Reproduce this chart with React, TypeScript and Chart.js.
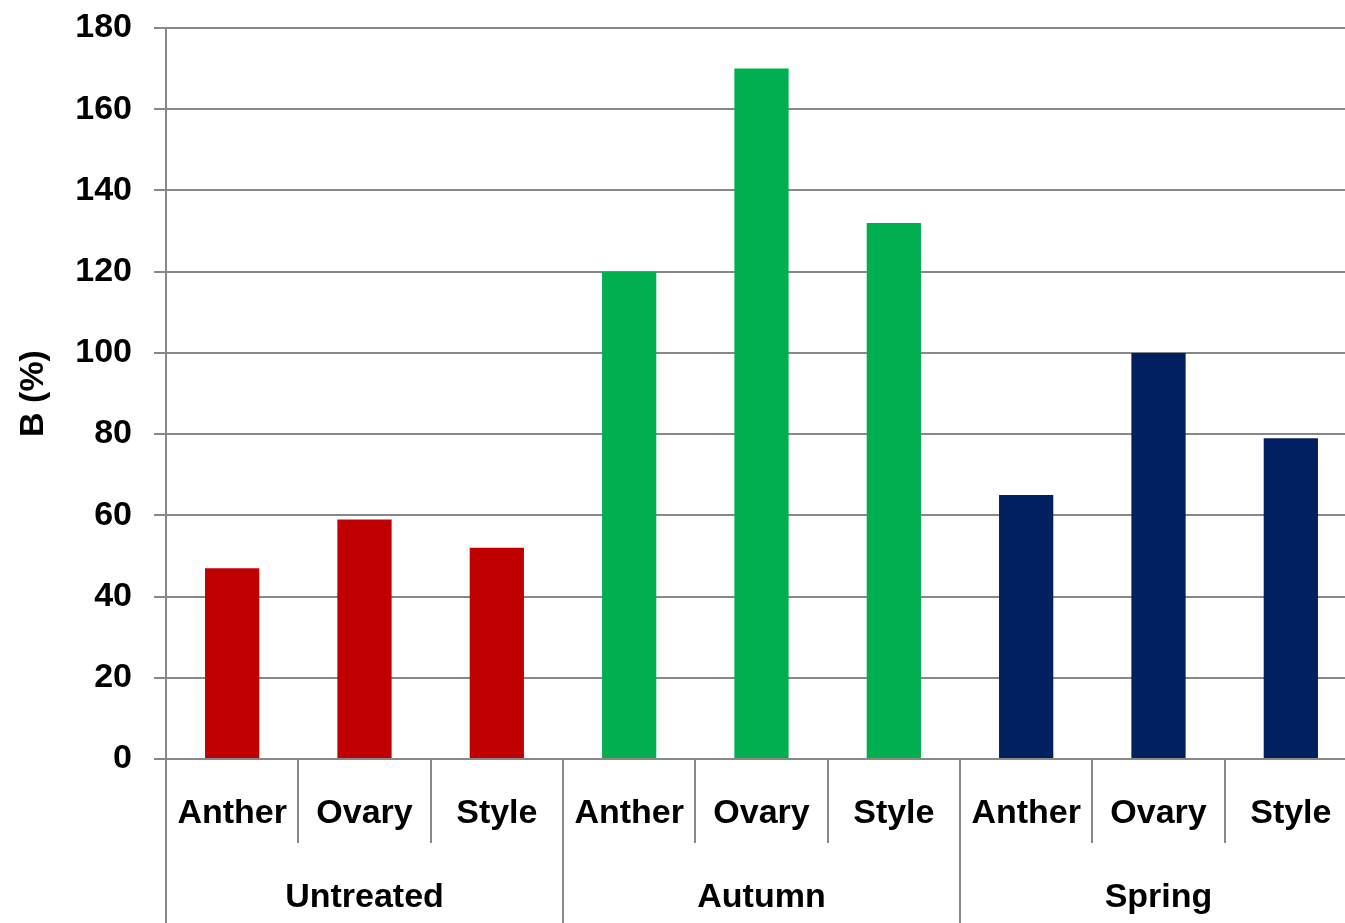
import React, { useEffect, useRef } from "react";
import { Chart, registerables } from "chart.js";

Chart.register(...registerables);

const groups = ["Untreated", "Autumn", "Spring"];
const organs = ["Anther", "Ovary", "Style"];
const values = [47, 59, 52, 120, 170, 132, 65, 100, 79];
const groupColors = ["#C00000", "#00B050", "#002060"];
const yTicks = [0, 20, 40, 60, 80, 100, 120, 140, 160, 180];

const FONT = "'Liberation Sans', Arial, sans-serif";
const GRID = "#888888";

const categoryAxisPlugin = {
  id: "categoryAxis",
  afterDraw(chart: any) {
    const { ctx, chartArea, scales } = chart;
    const x = scales.x;
    const n = values.length;
    const step = x.getPixelForValue(1) - x.getPixelForValue(0);
    const bottom = chartArea.bottom;
    const h = chart.height;
    ctx.save();
    ctx.strokeStyle = GRID;
    ctx.lineWidth = 2;
    for (let i = 0; i < n; i++) {
      const px = Math.round(x.getPixelForValue(i) - step / 2);
      const end = i % organs.length === 0 ? h : bottom + 84;
      ctx.beginPath();
      ctx.moveTo(px, bottom);
      ctx.lineTo(px, end);
      ctx.stroke();
    }
    ctx.fillStyle = "#000";
    ctx.textAlign = "center";
    ctx.textBaseline = "middle";
    ctx.font = `bold 34px ${FONT}`;
    for (let i = 0; i < n; i++) {
      ctx.fillText(organs[i % organs.length], x.getPixelForValue(i), bottom + 55);
    }
    groups.forEach((g, gi) => {
      const c = x.getPixelForValue(gi * organs.length + 1);
      ctx.fillText(g, c, bottom + 139);
    });
    ctx.restore();
  },
};

export default function App() {
  const ref = useRef<HTMLCanvasElement | null>(null);

  useEffect(() => {
    document.body.style.margin = "0";
    const labels = values.map((_, i) => `${groups[Math.floor(i / 3)]} ${organs[i % 3]}`);
    const colors = values.map((_, i) => groupColors[Math.floor(i / 3)]);
    const chart = new Chart(ref.current as HTMLCanvasElement, {
      type: "bar",
      data: {
        labels,
        datasets: [
          {
            data: values,
            backgroundColor: colors,
            borderWidth: 0,
            categoryPercentage: 1,
            barPercentage: 0.41,
          },
        ],
      },
      options: {
        animation: false,
        responsive: true,
        maintainAspectRatio: false,
        layout: { padding: { left: 0, top: 28, right: 0, bottom: 164 } },
        plugins: { legend: { display: false }, tooltip: { enabled: false } },
        scales: {
          x: { display: false },
          y: {
            min: 0,
            max: 180,
            afterFit(scale: any) {
              scale.width = 166;
              scale.paddingTop = 0;
              scale.paddingBottom = 0;
            },
            afterBuildTicks(scale: any) {
              scale.ticks = yTicks.map((v) => ({ value: v }));
            },
            ticks: {
              color: "#000",
              font: { family: FONT, size: 34, weight: "bold" },
              padding: 22,
            },
            grid: {
              color: GRID,
              lineWidth: 2,
              tickLength: 12,
              tickColor: GRID,
            },
            border: { display: true, color: GRID, width: 2 },
            title: {
              display: true,
              text: "B (%)",
              color: "#000",
              font: { family: FONT, size: 34, weight: "bold" },
              padding: { top: 13, bottom: 0 },
            },
          },
        },
      },
      plugins: [categoryAxisPlugin],
    });
    return () => chart.destroy();
  }, []);

  return (
    <div style={{ position: "absolute", left: 0, top: 0, width: 1345, height: 923, overflow: "hidden", background: "#fff" }}>
      <div style={{ position: "relative", width: 1357, height: 923 }}>
        <canvas ref={ref} />
      </div>
    </div>
  );
}
